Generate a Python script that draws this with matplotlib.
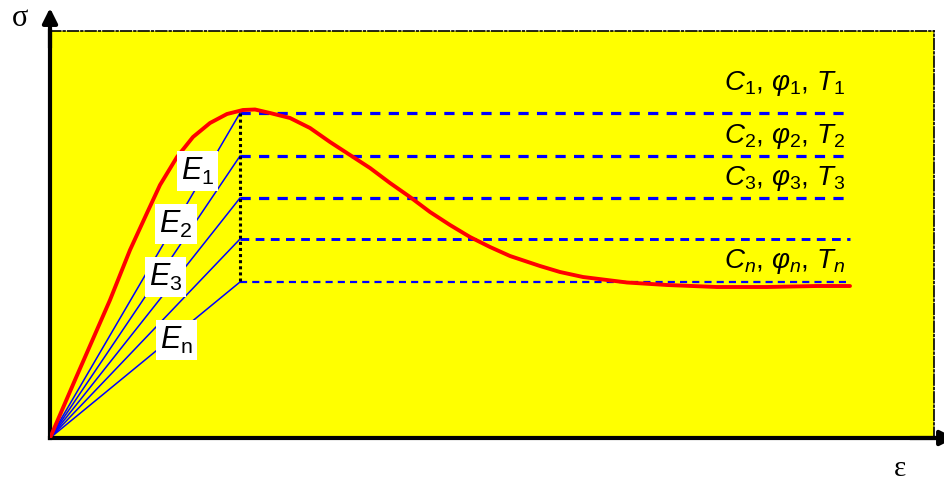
import numpy as np
import matplotlib.pyplot as plt

plt.rcParams['mathtext.fontset'] = 'custom'
plt.rcParams['mathtext.rm'] = 'Liberation Sans'
plt.rcParams['mathtext.it'] = 'Liberation Sans:italic'
plt.rcParams['font.family'] = ['Liberation Sans', 'DejaVu Sans']

# stress-strain curve (arbitrary units)
strain = [0.0, 0.25, 0.60, 0.80, 0.97, 1.10, 1.27, 1.43, 1.60, 1.77, 1.93, 2.05,
          2.20, 2.40, 2.60, 2.80, 3.00, 3.20, 3.40, 3.60, 3.80, 4.00, 4.20, 4.40,
          4.60, 4.90, 5.10, 5.33, 5.57, 5.77, 6.17, 6.67, 7.17, 7.67, 8.00]
stress = [0.0, 0.58, 1.38, 1.88, 2.25, 2.53, 2.81, 3.01, 3.15, 3.24, 3.28, 3.285,
          3.25, 3.20, 3.10, 2.96, 2.83, 2.70, 2.55, 2.41, 2.26, 2.13, 2.01, 1.91,
          1.82, 1.72, 1.66, 1.61, 1.58, 1.555, 1.53, 1.51, 1.51, 1.52, 1.52]

# bilinear approximations: elastic end and plateau levels
eps_yield = 1.90
eps_end = 8.00
levels = [3.25, 2.82, 2.40, 1.99, 1.56]

e_labels = [r'$E_1$', r'$E_2$', r'$E_3$', r'$E_\mathrm{n}$']
c_labels = [r'$C_{\mathit{1}}$, $\varphi_{\mathit{1}}$, $T_{\mathit{1}}$',
            r'$C_{\mathit{2}}$, $\varphi_{\mathit{2}}$, $T_{\mathit{2}}$',
            r'$C_{\mathit{3}}$, $\varphi_{\mathit{3}}$, $T_{\mathit{3}}$',
            r'$C_{n}$, $\varphi_{n}$, $T_{n}$']

fig = plt.figure(figsize=(9.44, 4.83), dpi=100)
ax = fig.add_axes([50 / 944, 45 / 483, 884 / 944, 407 / 483])
ax.set_facecolor('#ffff00')
ax.set_xlim(0, 8.84)
ax.set_ylim(0, 4.07)
ax.set_xticks([])
ax.set_yticks([])

for s in ['left', 'bottom']:
    ax.spines[s].set_linewidth(3)
for s in ['top', 'right']:
    ax.spines[s].set_linewidth(1.2)
    ax.spines[s].set_linestyle('-.')

# axis arrows
ax.annotate('', xy=(0, 4.30), xytext=(0, 3.9),
            arrowprops=dict(arrowstyle='-|>', lw=3, color='black', mutation_scale=22,
                            shrinkA=0, shrinkB=0), annotation_clip=False)
ax.annotate('', xy=(9.05, 0), xytext=(8.6, 0),
            arrowprops=dict(arrowstyle='-|>', lw=3, color='black', mutation_scale=22,
                            shrinkA=0, shrinkB=0), annotation_clip=False)

# dashed line styles, top to bottom
widths = [2.3, 2.3, 2.3, 2.1, 1.6]
dashes = [(3.2, 2.6), (3.2, 2.6), (3.2, 2.6), (3.0, 2.2), (3.2, 2.3)]

for lev, lw, d in zip(levels, widths, dashes):
    ax.plot([0, eps_yield], [0, lev], color='#0000ff', lw=1.1)
    ax.plot([eps_yield, eps_end], [lev, lev], color='#0000ff', lw=lw, dashes=d)

ax.plot([eps_yield, eps_yield], [levels[0], levels[-1]], color='black', lw=2.2,
        linestyle=(0, (1, 1)))

ax.plot(strain, stress, color='#ff0000', lw=2.8, solid_capstyle='round',
        solid_joinstyle='round', zorder=5)

# modulus labels
e_pos = [(1.475, 2.67), (1.26, 2.14), (1.155, 1.61), (1.265, 0.98)]
for (x, y), lab in zip(e_pos, e_labels):
    ax.text(x, y, lab, fontsize=22, ha='center', va='center', zorder=6,
            bbox=dict(facecolor='white', edgecolor='none', boxstyle='square,pad=0.14'))

# plateau labels
c_y = [3.48, 2.95, 2.53, 1.70]
for y, lab in zip(c_y, c_labels):
    ax.text(7.95, y, lab, fontsize=20, ha='right', va='baseline')

fig.text(20 / 944, 1 - 18 / 483, 'σ', fontsize=22, family='Liberation Serif',
         ha='center', va='center')
fig.text(900 / 944, 1 - 469 / 483, 'ε', fontsize=21, family='Liberation Serif',
         ha='center', va='center')

fig.savefig('out.png', dpi=100)
